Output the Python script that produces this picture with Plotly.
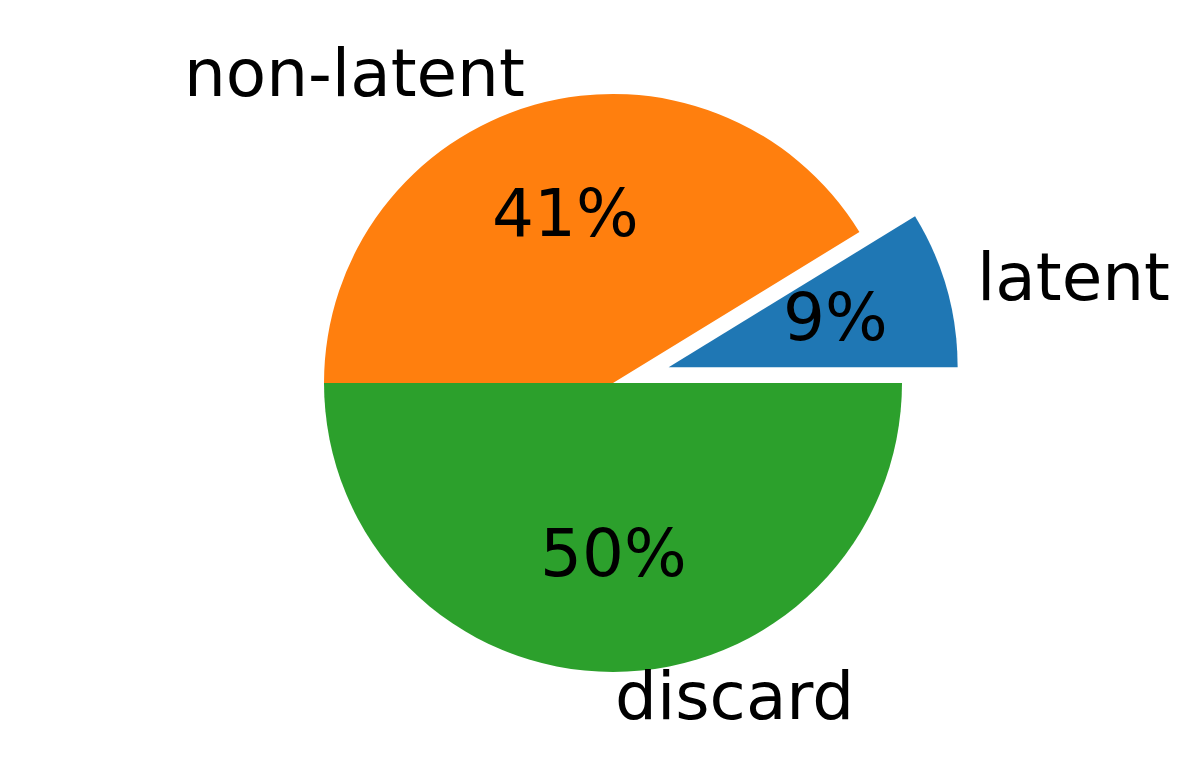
import math
import plotly.graph_objects as go

# Données
labels = ["latent", "non-latent", "discard"]
values = [8.75, 41.25, 50.0]
colors = ["#1f77b4", "#ff7f0e", "#2ca02c"]
explode = [0.2, 0, 0]

W, H = 1196, 770
cx, cy, r = 605, 375, 289  # centre et rayon du camembert en pixels (page décalée de 8px)
box = r * (2 + 2 * max(explode))  # plotly réduit le rayon selon le pull max
total = sum(values)

fig = go.Figure(go.Pie(
    labels=labels,
    values=values,
    pull=explode,
    sort=False,
    direction="counterclockwise",
    rotation=90 - 360 * values[0] / total,  # premier secteur commence à 3h
    textinfo="none",
    hoverinfo="label+percent",
    marker=dict(colors=colors, line=dict(width=0)),
    domain=dict(x=[(cx - box / 2) / W, (cx + box / 2) / W],
                y=[1 - (cy + box / 2) / H, 1 - (cy - box / 2) / H]),
))

# Étiquettes à la manière de matplotlib (labeldistance=1.1, pctdistance=0.6)
annotations = []
start = 0.0
for lab, v, ex in zip(labels, values, explode):
    theta = math.radians(start + 180 * v / total)
    start += 360 * v / total
    c, s = math.cos(theta), math.sin(theta)
    ox, oy = cx + ex * r * c, cy - ex * r * s
    lx, ly = ox + 1.1 * r * c, oy - 1.1 * r * s
    px, py = ox + 0.6 * r * c, oy - 0.6 * r * s
    annotations.append(dict(
        x=lx / W, y=1 - ly / H, xref="paper", yref="paper", text=lab,
        showarrow=False, xanchor="left" if c > -1e-9 else "right", yanchor="middle",
        yshift=4,
        font=dict(size=66, color="black", family="DejaVu Sans")))
    annotations.append(dict(
        x=px / W, y=1 - py / H, xref="paper", yref="paper",
        text="%1.0f%%" % (100 * v / total),
        showarrow=False, xanchor="center", yanchor="middle",
        yshift=3,
        font=dict(size=66, color="black", family="DejaVu Sans")))

fig.update_layout(
    width=W, height=H,
    margin=dict(l=0, r=0, t=0, b=0),
    paper_bgcolor="white",
    showlegend=False,
    annotations=annotations,
)

fig.write_html("out.html")
